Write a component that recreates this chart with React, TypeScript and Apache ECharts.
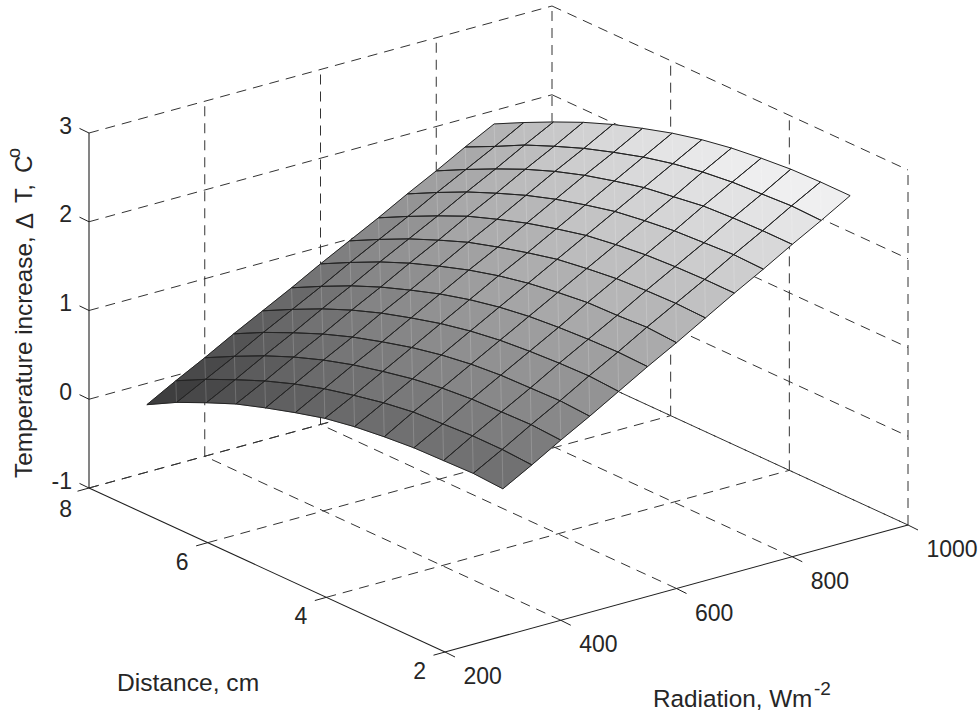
import React, { useEffect, useRef } from "react";
import * as echarts from "echarts";

const radiationTicks = [200, 400, 600, 800, 1000];
const distanceTicks = [8, 6, 4, 2];
const tempTicks = [-1, 0, 1, 2, 3];

const surfaceRadiation = [300, 350, 400, 450, 500, 550, 600, 650, 700, 750, 800, 850, 900];
const surfaceDistance = [8, 7.5, 7, 6.5, 6, 5.5, 5, 4.5, 4, 3.5, 3, 2.5, 2];
// one row per distance, one column per radiation
const surfaceTemp = [
  [-0.24, -0.06, 0.11, 0.29, 0.46, 0.63, 0.81, 0.98, 1.15, 1.33, 1.5, 1.68, 1.85],
  [-0.06, 0.11, 0.28, 0.46, 0.63, 0.8, 0.98, 1.15, 1.32, 1.5, 1.67, 1.84, 2.02],
  [0.09, 0.26, 0.44, 0.61, 0.79, 0.96, 1.14, 1.31, 1.48, 1.66, 1.83, 2.01, 2.18],
  [0.23, 0.4, 0.58, 0.75, 0.93, 1.1, 1.28, 1.45, 1.63, 1.8, 1.98, 2.15, 2.33],
  [0.34, 0.52, 0.7, 0.87, 1.05, 1.22, 1.4, 1.58, 1.75, 1.93, 2.11, 2.28, 2.46],
  [0.44, 0.62, 0.8, 0.97, 1.15, 1.33, 1.51, 1.68, 1.86, 2.04, 2.22, 2.39, 2.57],
  [0.53, 0.7, 0.88, 1.06, 1.24, 1.42, 1.6, 1.77, 1.95, 2.13, 2.31, 2.49, 2.67],
  [0.59, 0.77, 0.95, 1.13, 1.31, 1.49, 1.67, 1.85, 2.03, 2.21, 2.39, 2.57, 2.75],
  [0.63, 0.82, 1.0, 1.18, 1.36, 1.54, 1.72, 1.9, 2.08, 2.26, 2.44, 2.63, 2.81],
  [0.66, 0.84, 1.03, 1.21, 1.39, 1.57, 1.76, 1.94, 2.12, 2.3, 2.49, 2.67, 2.85],
  [0.67, 0.86, 1.04, 1.22, 1.41, 1.59, 1.77, 1.96, 2.14, 2.32, 2.51, 2.69, 2.88],
  [0.68, 0.86, 1.05, 1.23, 1.42, 1.6, 1.79, 1.97, 2.15, 2.34, 2.52, 2.71, 2.89],
  [0.66, 0.84, 1.03, 1.21, 1.4, 1.59, 1.77, 1.96, 2.15, 2.33, 2.52, 2.7, 2.89],
];

const FONT = '"Liberation Sans", Arial, sans-serif';
const INK = "#262626";

function project(r: number, d: number, z: number): number[] {
  const a = (r - 200) / 800;
  const b = (8 - d) / 6;
  return [89 + a * 463 + b * 356, 488 - a * 127 + b * 164 - (z + 1) * 88.75];
}

function grayOf(z: number): string {
  const t = Math.max(0, Math.min(1, (z + 0.24) / 3.13));
  const g = Math.round(255 * (0.2 + t * 0.76));
  return `rgb(${g},${g},${Math.min(255, g + 1)})`;
}

const rMin = radiationTicks[0];
const rMax = radiationTicks[radiationTicks.length - 1];
const dMax = distanceTicks[0];
const dMin = distanceTicks[distanceTicks.length - 1];
const zMin = tempTicks[0];
const zMax = tempTicks[tempTicks.length - 1];

type Seg = number[]; // r1,d1,z1,r2,d2,z2
const dashed: Seg[] = [];
// floor
distanceTicks.slice(0, 3).forEach((d) => dashed.push([rMin, d, zMin, rMax, d, zMin]));
radiationTicks.slice(1).forEach((r) => dashed.push([r, dMin, zMin, r, dMax, zMin]));
// back-left wall
tempTicks.forEach((z) => dashed.push([rMin, dMax, z, rMax, dMax, z]));
radiationTicks.slice(1).forEach((r) => dashed.push([r, dMax, zMin, r, dMax, zMax]));
// back-right wall
tempTicks.forEach((z) => dashed.push([rMax, dMax, z, rMax, dMin, z]));
distanceTicks.slice(1).forEach((d) => dashed.push([rMax, d, zMin, rMax, d, zMax]));

const solid: Seg[] = [
  [rMin, dMax, zMin, rMin, dMax, zMax],
  [rMin, dMax, zMin, rMin, dMin, zMin],
  [rMin, dMin, zMin, rMax, dMin, zMin],
];

// tick marks: anchor r,d,z and pixel offset
const tickMarks: number[][] = [
  ...tempTicks.map((z) => [rMin, dMax, z, -9.5, -4.6]),
  ...distanceTicks.map((d) => [rMin, d, zMin, -11.5, 3.2]),
  ...radiationTicks.map((r) => [r, dMin, zMin, 10, 5]),
];

const cells: number[][] = [];
for (let k = 0; k < surfaceDistance.length - 1; k++) {
  for (let j = 0; j < surfaceRadiation.length - 1; j++) cells.push([k, j]);
}

type Lab = { text: string; r: number; d: number; z: number; dx: number; dy: number; align: string };
const labels: Lab[] = [
  ...tempTicks.map((z) => ({ text: String(z), r: rMin, d: dMax, z, dx: -17, dy: -7.5, align: "right" })),
  ...distanceTicks.map((d) => ({
    text: String(d),
    r: rMin,
    d,
    z: zMin,
    dx: d === 8 ? -17 : -19,
    dy: d === 8 ? 21 : 19,
    align: "right",
  })),
  ...radiationTicks.map((r) => ({ text: String(r), r, d: dMin, z: zMin, dx: 18.5, dy: 24, align: "left" })),
];

function yTitlePart(text: string, x: number, y: number, size: number) {
  return {
    type: "text",
    x,
    y,
    rotation: Math.PI / 2,
    style: { text, font: `${size}px ${FONT}`, fill: INK, verticalAlign: "middle" },
  };
}

function buildOption() {
  return {
    animation: false,
    backgroundColor: "#ffffff",
    tooltip: { show: false },
    grid: { left: 0, right: 0, top: 0, bottom: 0 },
    xAxis: { type: "value", min: 0, max: 980, show: false },
    yAxis: { type: "value", min: 0, max: 713, inverse: true, show: false },
    graphic: [
      { type: "text", x: 117, y: 682, style: { text: "Distance, cm", font: `24.6px ${FONT}`, fill: INK, verticalAlign: "middle" } },
      { type: "text", x: 653, y: 698, style: { text: "Radiation, Wm", font: `24.3px ${FONT}`, fill: INK, verticalAlign: "middle" } },
      { type: "text", x: 814, y: 688, style: { text: "-2", font: `19px ${FONT}`, fill: INK, verticalAlign: "middle" } },
      yTitlePart("Temperature increase,", 23.5, 478, 24.3),
      yTitlePart("Δ", 24.5, 229, 24),
      yTitlePart("T,", 23.5, 203, 24.3),
      yTitlePart("C", 23.5, 173, 24.3),
      yTitlePart("o", 14, 158, 18),
    ],
    series: [
      {
        type: "custom",
        coordinateSystem: "cartesian2d",
        silent: true,
        z: 1,
        data: dashed.map((_, i) => [i]),
        clip: false,
        renderItem: (params: any, api: any) => {
          const s = dashed[params.dataIndex];
          const p = api.coord(project(s[0], s[1], s[2]));
          const q = api.coord(project(s[3], s[4], s[5]));
          return {
            type: "line",
            shape: { x1: p[0], y1: p[1], x2: q[0], y2: q[1] },
            style: { stroke: "#333333", lineWidth: 1, lineDash: [10, 7], fill: null },
          };
        },
      },
      {
        type: "custom",
        coordinateSystem: "cartesian2d",
        silent: true,
        z: 2,
        data: solid.map((_, i) => [i]),
        clip: false,
        renderItem: (params: any, api: any) => {
          const s = solid[params.dataIndex];
          const p = api.coord(project(s[0], s[1], s[2]));
          const q = api.coord(project(s[3], s[4], s[5]));
          return {
            type: "line",
            shape: { x1: p[0], y1: p[1], x2: q[0], y2: q[1] },
            style: { stroke: "#1f1f1f", lineWidth: 1.1, fill: null },
          };
        },
      },
      {
        type: "custom",
        coordinateSystem: "cartesian2d",
        silent: true,
        z: 2,
        data: tickMarks.map((_, i) => [i]),
        clip: false,
        renderItem: (params: any, api: any) => {
          const t = tickMarks[params.dataIndex];
          const p = api.coord(project(t[0], t[1], t[2]));
          return {
            type: "line",
            shape: { x1: p[0], y1: p[1], x2: p[0] + t[3], y2: p[1] + t[4] },
            style: { stroke: "#1f1f1f", lineWidth: 1, fill: null },
          };
        },
      },
      {
        type: "custom",
        coordinateSystem: "cartesian2d",
        silent: true,
        z: 3,
        data: cells,
        clip: false,
        renderItem: (params: any, api: any) => {
          const k = cells[params.dataIndex][0];
          const j = cells[params.dataIndex][1];
          const pt = (kk: number, jj: number) =>
            api.coord(project(surfaceRadiation[jj], surfaceDistance[kk], surfaceTemp[kk][jj]));
          const left = pt(k, j);
          const top = pt(k, j + 1);
          const right = pt(k + 1, j + 1);
          const bottom = pt(k + 1, j);
          const zz = (kk: number, jj: number) => surfaceTemp[kk][jj];
          const c = grayOf((zz(k, j) + zz(k, j + 1) + zz(k + 1, j) + zz(k + 1, j + 1)) / 4);
          return {
            type: "group",
            children: [
              { type: "polygon", shape: { points: [left, top, right, bottom] }, style: { fill: c, stroke: c, lineWidth: 0.6 } },
              {
                type: "line",
                shape: { x1: top[0], y1: top[1], x2: bottom[0], y2: bottom[1] },
                style: { stroke: "rgba(255,255,255,0.22)", lineWidth: 0.8, fill: null },
              },
            ],
          };
        },
      },
      {
        type: "custom",
        coordinateSystem: "cartesian2d",
        silent: true,
        z: 4,
        data: cells,
        clip: false,
        renderItem: (params: any, api: any) => {
          const k = cells[params.dataIndex][0];
          const j = cells[params.dataIndex][1];
          const pt = (kk: number, jj: number) =>
            api.coord(project(surfaceRadiation[jj], surfaceDistance[kk], surfaceTemp[kk][jj]));
          return {
            type: "polygon",
            shape: { points: [pt(k, j), pt(k, j + 1), pt(k + 1, j + 1), pt(k + 1, j)] },
            style: { fill: null, stroke: "#242424", lineWidth: 1 },
          };
        },
      },
      {
        type: "custom",
        coordinateSystem: "cartesian2d",
        silent: true,
        z: 5,
        data: labels.map((_, i) => [i]),
        clip: false,
        renderItem: (params: any, api: any) => {
          const l = labels[params.dataIndex];
          const p = api.coord(project(l.r, l.d, l.z));
          return {
            type: "text",
            style: {
              text: l.text,
              x: p[0] + l.dx,
              y: p[1] + l.dy,
              align: l.align,
              verticalAlign: "middle",
              font: `23px ${FONT}`,
              fill: INK,
            },
          };
        },
      },
    ],
  };
}

export default function App() {
  const ref = useRef<HTMLDivElement>(null);
  useEffect(() => {
    const chart = echarts.init(ref.current!, undefined, { renderer: "svg" });
    chart.setOption(buildOption() as any);
    return () => chart.dispose();
  }, []);
  return <div ref={ref} style={{ position: "absolute", left: 0, top: 0, width: 980, height: 713 }} />;
}
